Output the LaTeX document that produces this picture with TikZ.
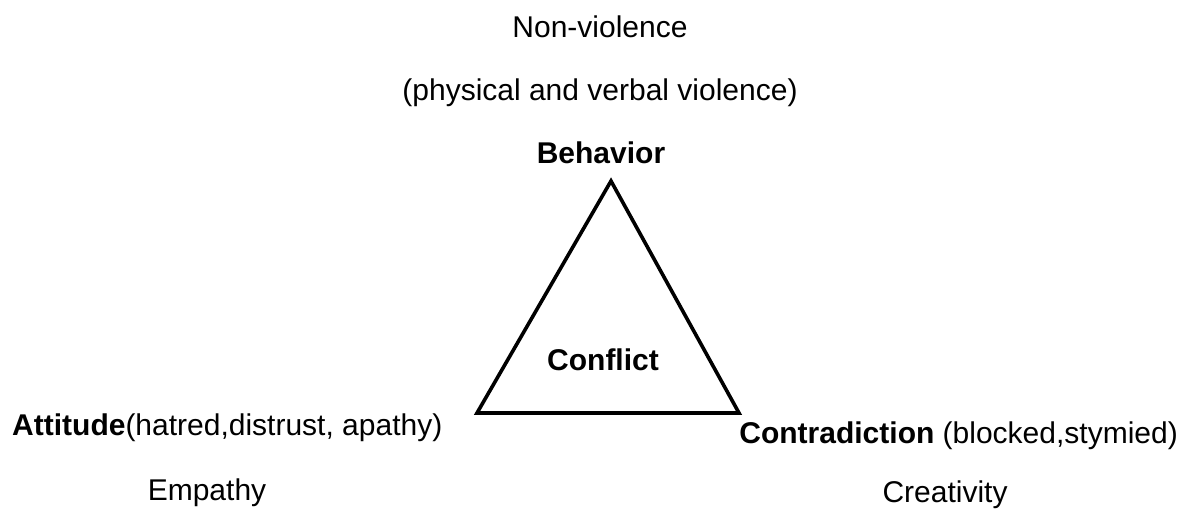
\documentclass[tikz,border=0pt]{standalone}
\usepackage{fontspec}
\setmainfont{Liberation Sans}
\begin{document}
\begin{tikzpicture}[x=1pt,y=-1pt,
  lbl/.style={inner sep=0pt,anchor=base,font=\fontsize{30}{36}\selectfont},
  tri/.style={line width=3.6pt,line join=miter}]
\useasboundingbox (0,0) rectangle (1190,512);
\node[lbl] (nv) at (600,37) {Non-violence};
\node[lbl] (pv) at (600,100) {(physical and verbal violence)};
\node[lbl] (beh) at (601,163) {\textbf{Behavior}};
\node[lbl] (con) at (603,370) {\textbf{Conflict}};
\node[lbl,anchor=base west] (att) at (12,435) {\textbf{Attitude}(hatred,distrust, apathy)};
\node[lbl,anchor=base east] (ctr) at (1178,443) {\textbf{Contradiction} (blocked,stymied)};
\node[lbl] (emp) at (207,500) {Empathy};
\node[lbl] (cre) at (945,502) {Creativity};
\coordinate (A) at (611,181);
\coordinate (B) at (477,413);
\coordinate (C) at (739,413);
\draw[tri] (A) -- (B) -- (C) -- cycle;
\end{tikzpicture}
\end{document}
